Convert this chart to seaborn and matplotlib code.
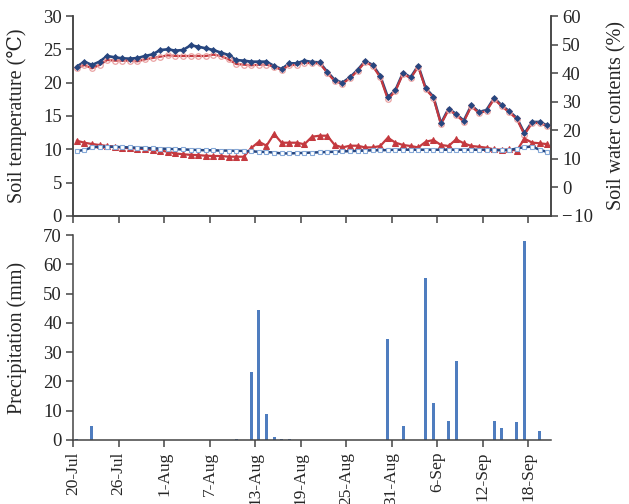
import matplotlib
matplotlib.use("Agg")
import matplotlib.pyplot as plt
import seaborn as sns
import pandas as pd

# ---------------- data ----------------
tick_labels = ["20-Jul", "26-Jul", "1-Aug", "7-Aug", "13-Aug", "19-Aug",
               "25-Aug", "31-Aug", "6-Sep", "12-Sep", "18-Sep"]
days = list(range(63))  # 20-Jul .. 20-Sep

temp_a = [22.4, 23.15, 22.65, 23.15, 24.0, 23.8, 23.65, 23.6, 23.7, 24.0,
          24.25, 24.9, 25.0, 24.8, 24.9, 25.6, 25.4, 25.15, 24.9, 24.5,
          24.15, 23.4, 23.3, 23.15, 23.15, 23.15, 22.5, 22.05, 22.9, 22.9,
          23.3, 23.1, 23.05, 21.65, 20.4, 20.0, 20.8, 21.9, 23.25, 22.65,
          21.0, 17.8, 18.9, 21.5, 20.8, 22.55, 19.15, 17.9, 13.9, 16.1,
          15.3, 14.3, 16.6, 15.6, 15.9, 17.7, 16.6, 15.7, 14.7, 12.4,
          14.1, 14.1, 13.6]
temp_b = [22.15, 22.65, 22.15, 22.65, 23.4, 23.3, 23.3, 23.3, 23.2, 23.5,
          23.7, 23.9, 24.1, 24.0, 24.0, 24.0, 24.0, 24.0, 24.2, 24.0,
          23.5, 22.8, 22.7, 22.6, 22.7, 22.7, 22.4, 21.9, 22.6, 22.7,
          23.0, 22.9, 22.9, 21.5, 20.2, 19.85, 20.65, 21.75, 23.1, 22.5,
          20.8, 17.5, 18.75, 21.35, 20.65, 22.4, 19.0, 17.75, 13.75, 15.95,
          15.15, 14.15, 16.45, 15.45, 15.75, 17.55, 16.45, 15.55, 14.55, 12.2,
          13.95, 13.95, 13.45]
water_b = [16.35, 15.65, 15.2, 14.85, 14.5, 14.3, 13.9, 13.7, 13.6, 13.4,
           13.1, 12.9, 12.5, 11.9, 11.6, 11.4, 11.3, 11.1, 11.0, 11.0,
           10.75, 10.75, 10.75, 13.8, 16.0, 14.6, 18.7, 15.65, 15.65, 15.65,
           15.1, 17.75, 18.1, 18.1, 14.85, 14.0, 14.6, 14.6, 14.0, 14.0,
           14.5, 17.4, 15.65, 14.85, 14.5, 14.0, 16.0, 16.6, 14.85, 14.5,
           16.85, 15.45, 14.5, 14.25, 13.9, 13.3, 13.2, 13.3, 12.9, 17.1,
           15.7, 15.45, 15.15]
water_a = [12.75, 13.1, 14.0, 14.25, 14.25, 14.2, 14.1, 14.0, 13.9, 13.8,
           13.7, 13.6, 13.5, 13.4, 13.3, 13.2, 13.1, 13.0, 13.0, 12.9,
           12.9, 12.8, 12.8, 12.6, 12.5, 12.4, 12.2, 11.9, 11.9, 12.0,
           12.1, 12.2, 12.3, 12.4, 12.5, 12.6, 12.7, 12.8, 12.9, 13.0,
           13.0, 13.1, 13.2, 13.2, 13.2, 13.2, 13.2, 13.2, 13.2, 13.2,
           13.2, 13.2, 13.2, 13.2, 13.2, 13.1, 13.0, 13.1, 13.6, 14.1,
           14.3, 13.2, 12.4]

rain_days = [0, 2, 21, 23, 24, 25, 26, 27, 28, 41, 43, 46, 47, 49, 50, 55, 56, 58, 59, 61]
rain_mm = [0.3, 4.8, 0.5, 23.1, 44.4, 8.8, 1.1, 0.3, 0.5, 34.5,
           4.7, 55.4, 12.6, 6.5, 27.1, 6.5, 4.0, 6.0, 68.0, 3.0]

# ---------------- style ----------------
sns.set_style("ticks")
plt.rcParams['font.family'] = ['Liberation Serif', 'DejaVu Serif']
plt.rcParams['font.size'] = 13
plt.rcParams['axes.linewidth'] = 1.1
plt.rcParams['axes.edgecolor'] = '#444444'

dark_blue = '#27467f'
red = '#c4393f'
pale_red = '#eaa3a3'
pale_blue = '#86a9d8'
bar_blue = '#4f7dbf'

x = [d + 0.5 for d in days]
df = pd.DataFrame({"x": x, "ta": temp_a, "tb": temp_b, "wa": water_a, "wb": water_b})
rain_df = pd.DataFrame({"x": [d + 0.5 for d in rain_days], "mm": rain_mm})

fig = plt.figure(figsize=(6.29, 5.04), dpi=100)
W, H = 629, 504
ax1 = fig.add_axes([73 / W, 1 - 216 / H, 478 / W, 200 / H])
ax2 = ax1.twinx()
ax3 = fig.add_axes([73 / W, 1 - 440 / H, 478 / W, 205 / H])

# temperature (left axis)
sns.lineplot(data=df, x="x", y="ta", ax=ax1, color=dark_blue, lw=1.9, zorder=2)
sns.lineplot(data=df, x="x", y="tb", ax=ax1, color=red, lw=1.6, zorder=3,
             marker='o', markersize=4, markerfacecolor='none',
             markeredgecolor=pale_red, markeredgewidth=0.9)
sns.scatterplot(data=df, x="x", y="ta", ax=ax1, color=dark_blue, marker='D',
                s=13, linewidth=0, zorder=4)

# water content (right axis)
sns.lineplot(data=df, x="x", y="wb", ax=ax2, color=red, lw=1.6, zorder=2,
             marker='^', markersize=4, markerfacecolor=red, markeredgecolor=red)
sns.lineplot(data=df, x="x", y="wa", ax=ax2, color=dark_blue, lw=1.8, zorder=3,
             marker='s', markersize=3.5, markerfacecolor='white',
             markeredgecolor=pale_blue, markeredgewidth=0.8)

# precipitation
sns.barplot(data=rain_df, x="x", y="mm", ax=ax3, native_scale=True, width=0.4,
            color=bar_blue, saturation=1, errorbar=None, linewidth=0)

xt = list(range(0, 61, 6))
for ax in (ax1, ax3):
    ax.set_xlim(0, 63)
    ax.set_xticks(xt)
    ax.tick_params(axis='x', direction='out', length=5, width=1.1, color='#444444')
ax1.set_xticklabels([])
ax3.set_xticklabels(tick_labels, rotation=90)
ax1.set_xlabel("")
ax3.set_xlabel("")

ax1.set_ylim(0, 30)
ax1.set_yticks(range(0, 31, 5))
ax2.set_ylim(-10, 60)
ax2.set_yticks(range(-10, 61, 10))
ax2.set_yticklabels(["\u2212\u200a10"] + [str(v) for v in range(0, 61, 10)])
ax3.set_ylim(0, 70)
ax3.set_yticks(range(0, 71, 10))

for ax in (ax1, ax2, ax3):
    ax.tick_params(axis='y', direction='out', length=5, width=1.1, color='#444444',
                   labelsize=13.5, pad=3)
ax3.tick_params(axis='x', labelsize=12.5)

ax1.set_ylabel("Soil temperature (\u2103)", fontsize=14.5)
ax2.set_ylabel("Soil water contents (%)", fontsize=14.5)
ax3.set_ylabel("Precipitation (mm)", fontsize=14.5)
ax1.yaxis.set_label_coords(-0.096, 0.5)
ax3.yaxis.set_label_coords(-0.096, 0.5)
ax2.yaxis.set_label_coords(1.117, 0.5)

ax1.spines["top"].set_visible(False)
ax2.spines["top"].set_visible(False)
ax3.spines["top"].set_visible(False)
ax3.spines["right"].set_visible(False)
ax1.patch.set_visible(False)
ax3.patch.set_visible(False)

fig.savefig("out.png", dpi=100)
